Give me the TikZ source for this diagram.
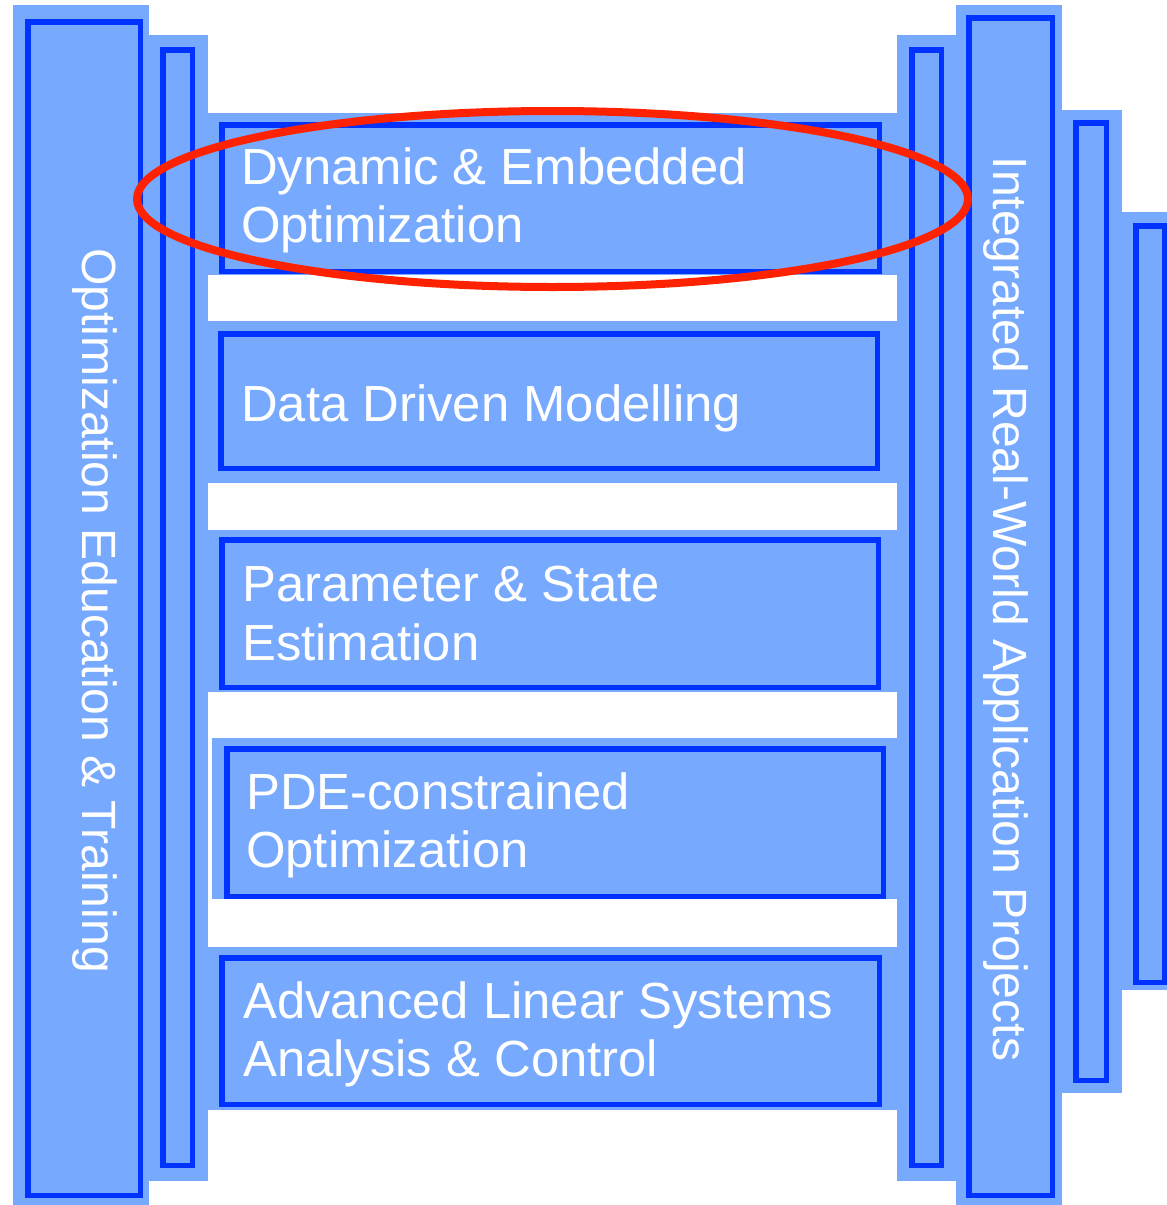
\documentclass[tikz,border=0pt]{standalone}
\usepackage{fontspec}
\setmainfont{Liberation Sans}
\definecolor{lb}{RGB}{119,170,255}
\definecolor{db}{RGB}{0,51,255}
\definecolor{rd}{RGB}{255,34,0}
\begin{document}
\begin{tikzpicture}[x=1pt,y=-1pt,
  pad/.style={fill=lb},
  frame/.style={draw=db,line width=5.5pt},
  lbl/.style={text=white,font=\fontsize{50.8}{60}\selectfont,inner sep=0pt,anchor=base west},
  vlbl/.style={text=white,font=\fontsize{48.05}{57}\selectfont,inner sep=0pt,anchor=base west,rotate=-90},
  ring/.style={draw=rd,line width=8pt}]
\useasboundingbox (0,0) rectangle (1167,1205);
% light blue padding areas
\fill[pad] (13,5) rectangle (149,1205);
\fill[pad] (149,35) rectangle (208,1181);
\fill[pad] (208,113) rectangle (897,275);
\fill[pad] (208,321) rectangle (897,483);
\fill[pad] (208,530) rectangle (897,692);
\fill[pad] (212,738) rectangle (897,899);
\fill[pad] (208,947) rectangle (897,1110);
\fill[pad] (897,35) rectangle (956,1181);
\fill[pad] (956,5) rectangle (1062,1205);
\fill[pad] (1062,110) rectangle (1122,1093);
\fill[pad] (1122,212) rectangle (1167,990);
% blue frames
\draw[frame] (27.75,21.75) rectangle (140.25,1195.25);
\draw[frame] (162.75,49.75) rectangle (192.25,1165.25);
\draw[frame] (221.75,124.75) rectangle (879.25,271.25);
\draw[frame] (220.75,333.75) rectangle (877.25,468.25);
\draw[frame] (221.75,539.75) rectangle (878.25,687.25);
\draw[frame] (226.75,748.75) rectangle (883.25,896.25);
\draw[frame] (221.75,957.75) rectangle (879.25,1104.25);
\draw[frame] (911.75,49.75) rectangle (941.25,1165.25);
\draw[frame] (968.75,17.75) rectangle (1052.25,1195.25);
\draw[frame] (1075.75,122.75) rectangle (1106.25,1080.25);
\draw[frame] (1135.75,225.75) rectangle (1164.25,982.25);
% labels
\node[lbl] (t1a) at (241,184) {Dynamic \& Embedded};
\node[lbl] (t1b) at (241,242.5) {Optimization};
\node[lbl] (t2) at (241,421) {Data Driven Modelling};
\node[lbl] (t3a) at (242,601.7) {Parameter \& State};
\node[lbl] (t3b) at (242,660) {Estimation};
\node[lbl] (t4a) at (246,809) {PDE-constrained};
\node[lbl] (t4b) at (246,867.5) {Optimization};
\node[lbl] (t5a) at (243,1018.3) {Advanced Linear Systems};
\node[lbl] (t5b) at (243,1076.7) {Analysis \& Control};
\node[vlbl] (vl) at (82.5,248) {Optimization Education \& Training};
\node[vlbl] (vr) at (993,156.5) {Integrated Real-World Application Projects};
% highlight ellipse
\draw[ring] (552.5,199) ellipse [x radius=415.5, y radius=88];
\end{tikzpicture}
\end{document}
